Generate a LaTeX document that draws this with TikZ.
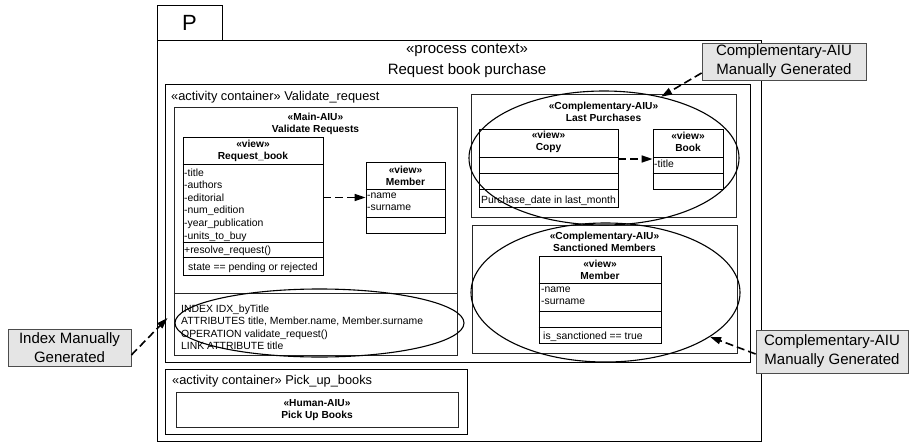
\documentclass[tikz,border=0pt]{standalone}
\usepackage{fontspec}
\setmainfont{Liberation Sans}
\usetikzlibrary{arrows.meta,shapes.geometric}
\newcommand\ctxfont{\fontsize{15}{19}\selectfont}
\newcommand\contfont{\fontsize{12.8}{15}\selectfont}
\newcommand\membfont{\fontsize{10.4}{12.6}\selectfont}
\newcommand\headfont{\fontsize{10.2}{12.4}\selectfont\bfseries}

\begin{document}
\begin{tikzpicture}[x=1pt, y=-1pt,
    frame/.style={draw, line width=0.8pt, inner sep=0pt},
    aiu/.style={draw=black!85, line width=0.8pt, inner sep=0pt},
    cls/.style={draw, line width=0.8pt, inner sep=0pt},
    head/.style={font=\headfont, align=center, inner sep=0pt},
    memb/.style={font=\membfont, align=left, inner sep=0pt, anchor=north west},
    note/.style={draw=black!70, fill=black!10, line width=0.8pt, align=center, font=\ctxfont, inner sep=0pt},
    hilite/.style={draw, ellipse, line width=1.1pt, inner sep=0pt},
    dep/.style={-{Triangle[length=11pt,width=7pt]}, line width=1.6pt, dash pattern=on 8pt off 4pt}
]
    \useasboundingbox (0,0) rectangle (911,447);

    % process frame and its tab
    \node[frame, minimum width=65pt, minimum height=35pt, font=\fontsize{22}{24}\selectfont, name=tab] at(189.5,22.5) {P};
    \node[frame, minimum width=604pt, minimum height=401pt, name=proc] at(459,240.5) {};
    \node[font=\ctxfont, anchor=base, inner sep=0pt, name=procT] at(467,53) {«process context»};
    \node[font=\ctxfont, anchor=base, inner sep=0pt, name=procN] at(467,74) {Request book purchase};

    % activity container: Validate_request
    \node[frame, minimum width=585pt, minimum height=278pt, name=valid] at(457.5,223) {};
    \node[font=\contfont, anchor=base west, inner sep=0pt, name=validT] at(171,100) {«activity container» Validate\_request};

    \node[aiu, minimum width=283pt, minimum height=248pt, name=mainAIU] at(315.5,231) {};
    \draw[aiu] (mainAIU.west |- 0,293) -- (mainAIU.east |- 0,293);
    \node[head, name=mainT] at(315.5,124) {«Main-AIU»\\Validate Requests};

    \node[cls, minimum width=140pt, minimum height=138pt, name=reqBook] at(253,206) {};
    \node[head, name=reqBookT] at(253,151) {«view»\\Request\_book};
    \draw[cls] (reqBook.west |- 0,164) -- (reqBook.east |- 0,164);
    \draw[cls] (reqBook.west |- 0,242) -- (reqBook.east |- 0,242);
    \draw[cls] (reqBook.west |- 0,257) -- (reqBook.east |- 0,257);
    \node[memb, name=reqBookA] at(184,168.4) {-title\\-authors\\-editorial\\-num\_edition\\-year\_publication\\-units\_to\_buy};
    \node[memb, anchor=base west, name=reqBookO] at(184,253) {+resolve\_request()};
    \node[memb, anchor=base west, name=reqBookC] at(188,270) {state == pending or rejected};

    \node[cls, minimum width=79pt, minimum height=71pt, name=memL] at(405.5,197.5) {};
    \node[head, name=memLT] at(405.5,176) {«view»\\Member};
    \draw[cls] (memL.west |- 0,189) -- (memL.east |- 0,189);
    \draw[cls] (memL.west |- 0,217) -- (memL.east |- 0,217);
    \node[memb, name=memLA] at(367,192.4) {-name\\-surname};

    \draw[dep] (reqBook.east |- memL.west) -- (memL.west);

    \node[memb, name=idx] at(181,304.4) {INDEX IDX\_byTitle\\ATTRIBUTES title, Member.name, Member.surname\\OPERATION validate\_request()\\LINK ATTRIBUTE title};

    % Complementary-AIU: Last Purchases
    \node[aiu, minimum width=265pt, minimum height=123pt, name=lastAIU] at(603.5,155.5) {};
    \node[head, name=lastT] at(603.5,112) {«Complementary-AIU»\\Last Purchases};

    \node[cls, minimum width=139pt, minimum height=78pt, name=copyCls] at(548.5,168) {};
    \node[head, name=copyT] at(548.5,142) {«view»\\Copy};
    \draw[cls] (copyCls.west |- 0,157) -- (copyCls.east |- 0,157);
    \draw[cls] (copyCls.west |- 0,173) -- (copyCls.east |- 0,173);
    \draw[cls] (copyCls.west |- 0,189) -- (copyCls.east |- 0,189);
    \node[memb, anchor=base west, name=copyC] at(481,203) {Purchase\_date in last\_month};

    \node[cls, minimum width=70pt, minimum height=60pt, name=bookCls] at(688,159) {};
    \node[head, name=bookT] at(688,142) {«view»\\Book};
    \draw[cls] (bookCls.west |- 0,157) -- (bookCls.east |- 0,157);
    \draw[cls] (bookCls.west |- 0,173) -- (bookCls.east |- 0,173);
    \node[memb, anchor=base west, name=bookA] at(654,167) {-title};

    \draw[dep] (copyCls.east |- bookCls.west) -- (bookCls.west);

    % Complementary-AIU: Sanctioned Members
    \node[aiu, minimum width=265pt, minimum height=128pt, name=sancAIU] at(604.5,289) {};
    \node[head, name=sancT] at(604.5,242) {«Complementary-AIU»\\Sanctioned Members};

    \node[cls, minimum width=122pt, minimum height=87pt, name=memR] at(600,299.5) {};
    \node[head, name=memRT] at(600,270) {«view»\\Member};
    \draw[cls] (memR.west |- 0,283) -- (memR.east |- 0,283);
    \draw[cls] (memR.west |- 0,311) -- (memR.east |- 0,311);
    \draw[cls] (memR.west |- 0,327) -- (memR.east |- 0,327);
    \node[memb, name=memRA] at(541,286.6) {-name\\-surname};
    \node[memb, anchor=base west, name=memRC] at(543,339) {is\_sanctioned == true};

    % activity container: Pick_up_books
    \node[frame, minimum width=302pt, minimum height=65pt, name=pick] at(316,401.5) {};
    \node[font=\contfont, anchor=base west, inner sep=0pt, name=pickT] at(172,384) {«activity container» Pick\_up\_books};
    \node[aiu, minimum width=282pt, minimum height=35pt, name=humanAIU] at(317,409.5) {};
    \node[head, name=humanT] at(317,410) {«Human-AIU»\\Pick Up Books};

    % manually generated parts
    \node[hilite, minimum width=270pt, minimum height=134pt, name=lastEll] at(604,158) {};
    \node[hilite, minimum width=269pt, minimum height=139pt, name=sancEll] at(605.5,292.5) {};
    \node[hilite, minimum width=289pt, minimum height=68pt, name=idxEll] at(319.5,323) {};

    \node[note, minimum width=164pt, minimum height=37pt, name=lastNote] at(784,61.5) {Complementary-AIU\\Manually Generated};
    \node[note, minimum width=123pt, minimum height=37pt, name=idxNote] at(69.5,347.5) {Index Manually\\Generated};
    \node[note, minimum width=152pt, minimum height=43pt, name=sancNote] at(832,351.5) {Complementary-AIU\\Manually Generated};

    \draw[dep] ([yshift=-11.5pt]lastNote.west) -- (lastEll.47);
    \draw[dep] ([yshift=-7.5pt]idxNote.east) -- ([shift={(-7pt,5pt)}]idxEll.west);
    \draw[dep] ([yshift=-2.5pt]sancNote.west) -- (sancEll.-23);
\end{tikzpicture}
\end{document}
